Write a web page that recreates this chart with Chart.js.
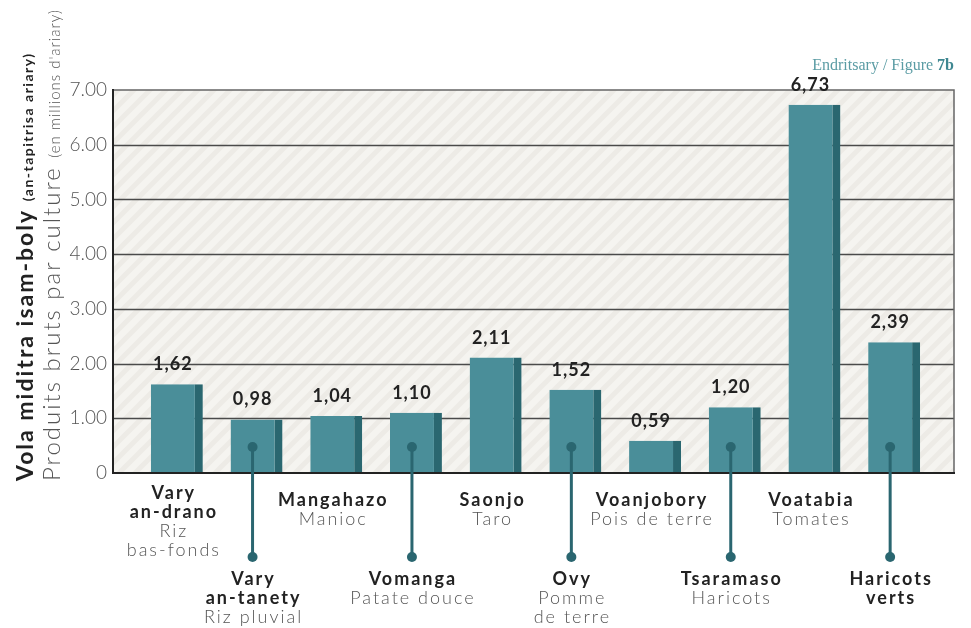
<!DOCTYPE html>
<html><head><meta charset="utf-8">
<script src="https://cdn.jsdelivr.net/npm/chart.js@4"></script>
<style>html,body{margin:0;padding:0;background:#fff}#wrap{position:relative;width:971px;height:628px}</style>
</head><body><div id="wrap"><canvas id="c" width="971" height="628"></canvas></div>
<script>
const categories = ["Vary an-drano","Vary an-tanety","Mangahazo","Vomanga","Saonjo","Ovy","Voanjobory","Tsaramaso","Voatabia","Haricots verts"];
const namesBold = [["Vary","an-drano"],["Vary","an-tanety"],["Mangahazo"],["Vomanga"],["Saonjo"],["Ovy"],["Voanjobory"],["Tsaramaso"],["Voatabia"],["Haricots","verts"]];
const namesLight = [["Riz","bas-fonds"],["Riz pluvial"],["Manioc"],["Patate douce"],["Taro"],["Pomme","de terre"],["Pois de terre"],["Haricots"],["Tomates"],[]];
const values = [1.62,0.98,1.04,1.10,2.11,1.52,0.59,1.20,6.73,2.39];
const valueLabels = ["1,62","0,98","1,04","1,10","2,11","1,52","0,59","1,20","6,73","2,39"];
const yTickLabels = ["0","1.00","2.00","3.00","4.00","5.00","6.00","7.00"];

const FRONT='#4a8e99', SIDE='#2a6770', DARK='#2a6670';
const LIGHTFONT='"Lato", "Open Sans", sans-serif';

// stripe pattern
const tile=document.createElement('canvas');tile.width=16;tile.height=16;
const tc=tile.getContext('2d');tc.fillStyle='#f5f4f0';tc.fillRect(0,0,16,16);
tc.strokeStyle='#edebe6';tc.lineWidth=5;tc.beginPath();
tc.moveTo(-4,20);tc.lineTo(20,-4);tc.moveTo(-4,4);tc.lineTo(4,-4);tc.moveTo(12,20);tc.lineTo(20,12);tc.stroke();

const decor={
  id:'decor',
  beforeDatasetsDraw(chart){
    const {ctx,chartArea:a,scales:{y}}=chart;
    const L=a.left-24,R=a.right+20,T=y.getPixelForValue(7),B=y.getPixelForValue(0);
    ctx.save();
    ctx.fillStyle=ctx.createPattern(tile,'repeat');
    ctx.fillRect(L,T,R-L,B-T);
    for(let v=1;v<=6;v++){
      const py=Math.round(y.getPixelForValue(v))+0.5;
      ctx.strokeStyle='#4a4a4a';ctx.lineWidth=1.3;
      ctx.beginPath();ctx.moveTo(L,py);ctx.lineTo(R,py);ctx.stroke();
    }
    ctx.strokeStyle='#666';ctx.lineWidth=1.5;
    ctx.beginPath();ctx.moveTo(L,T);ctx.lineTo(R,T);ctx.lineTo(R,B);ctx.stroke();
    ctx.restore();
  },
  afterDatasetsDraw(chart){
    const {ctx,chartArea:a,scales:{y}}=chart;
    const L=a.left-24,R=a.right+20,T=y.getPixelForValue(7),B=y.getPixelForValue(0);
    const meta=chart.getDatasetMeta(0);
    ctx.save();
    ctx.strokeStyle='#222';ctx.lineWidth=2;
    ctx.beginPath();ctx.moveTo(L,T-1);ctx.lineTo(L,B);ctx.lineTo(R+1,B);ctx.stroke();
    meta.data.forEach((bar,i)=>{
      const fx=bar.x-bar.width/2+(bar.width-8)/2;
      ctx.fillStyle='#222';ctx.font='bold 18px "Lato", sans-serif';
      ctx.letterSpacing='1px';
      ctx.textAlign='center';ctx.textBaseline='alphabetic';
      ctx.fillText(valueLabels[i],fx,bar.y-14);
      const lower=i%2===1;
      const lines=[...namesBold[i].map(t=>[t,true]),...namesLight[i].map(t=>[t,false])];
      let cy;
      if(lower){
        cy=B+106;
        ctx.strokeStyle=DARK;ctx.lineWidth=3;
        ctx.beginPath();ctx.moveTo(fx,B-26);ctx.lineTo(fx,B+84);ctx.stroke();
        ctx.fillStyle=DARK;
        ctx.beginPath();ctx.arc(fx,B-26,5,0,Math.PI*2);ctx.fill();
        ctx.beginPath();ctx.arc(fx,B+84,5,0,Math.PI*2);ctx.fill();
      } else {
        cy= lines.length>2 ? B+20 : B+27;
      }
      ctx.textBaseline='middle';
      lines.forEach(([t,b],k)=>{
        ctx.fillStyle=b?'#222':'#555';
        ctx.font=(b?'bold ':'300 ')+'18px '+LIGHTFONT;
        ctx.letterSpacing=b?'2px':'2px';
        ctx.fillText(t,fx+1,cy+k*19);
      });
    });
    ctx.restore();
  },
  afterDraw(chart){
    const {ctx}=chart;
    ctx.save();
    ctx.textBaseline='alphabetic';ctx.textAlign='left';ctx.letterSpacing='0px';
    ctx.font='bold 16px "Liberation Serif", serif';
    const w2=ctx.measureText('7b').width;
    ctx.font='16px "Liberation Serif", serif';
    const t1='Endritsary / Figure ';
    const w1=ctx.measureText(t1).width;
    const x0=954-w1-w2;
    ctx.fillStyle='#5b9ca4';ctx.fillText(t1,x0,70);
    ctx.font='bold 16px "Liberation Serif", serif';ctx.fillStyle='#3f8791';ctx.fillText('7b',x0+w1,70);
    ctx.rotate(-Math.PI/2);
    ctx.fillStyle='#222';
    ctx.letterSpacing='2px';
    ctx.font='bold 23px "Lato", sans-serif';
    const a1='Vola miditra isam-boly ';
    ctx.fillText(a1,-481,33);
    let wa=ctx.measureText(a1).width;
    ctx.letterSpacing='1.5px';
    ctx.font='bold 14px "Lato", sans-serif';
    ctx.fillText('(an-tapitrisa ariary)',-481+wa,33);
    ctx.fillStyle='#555';
    ctx.letterSpacing='2px';
    ctx.font='300 24px "Lato", sans-serif';
    const b1='Produits bruts par culture ';
    ctx.fillText(b1,-481,60);
    let wb=ctx.measureText(b1).width;
    ctx.letterSpacing='1px';
    ctx.font='300 15px "Lato", sans-serif';
    ctx.fillText("(en millions d'ariary)",-481+wb,60);
    ctx.restore();
  }
};

new Chart(document.getElementById('c'),{
  type:'bar',
  data:{labels:categories,datasets:[{data:values,backgroundColor:FRONT,borderColor:SIDE,
    borderWidth:{top:0,left:0,bottom:0,right:8},borderSkipped:false,
    categoryPercentage:1,barPercentage:0.652}]},
  options:{
    responsive:false,animation:false,devicePixelRatio:1,
    layout:{padding:{top:90,right:37,left:0,bottom:0}},
    plugins:{legend:{display:false},tooltip:{enabled:false}},
    scales:{
      x:{offset:true,grid:{display:false,drawTicks:false},border:{display:false},
        ticks:{display:false},afterFit(s){s.height=155;}},
      y:{min:0,max:7,grid:{display:false,drawTicks:false},border:{display:false},
        ticks:{stepSize:1,padding:30,color:'#555',font:{family:'Lato',size:19,weight:'300'},
          callback:(v)=>yTickLabels[v]},
        afterFit(s){s.width=137;}}
    }
  },
  plugins:[decor]
});
</script></body></html>
